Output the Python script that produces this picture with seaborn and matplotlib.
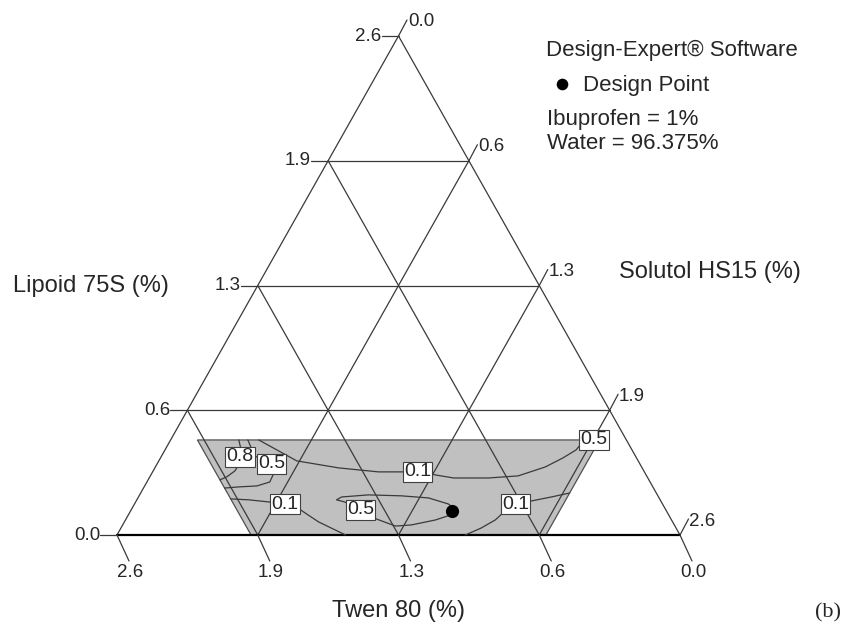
import math

import matplotlib
matplotlib.use("Agg")
import matplotlib.pyplot as plt
import numpy as np
import seaborn as sns

sns.set_style("white")
plt.rcParams["font.family"] = ["Liberation Sans", "DejaVu Sans"]

# Mixture: Lipoid 75S + Tween 80 + Solutol HS15 = 2.625 % (Ibuprofen 1 %, Water 96.375 %)
TOTAL = 2.625
LIPOID_MAX = 0.5
TWEEN_MAX = 2.0
SOLUTOL_MAX = 2.0

# Contour traces as (Lipoid %, Tween %) pairs; Solutol = TOTAL - Lipoid - Tween
c01_upper_lipoid = [0.500, 0.390, 0.353, 0.332, 0.332, 0.300, 0.300, 0.311, 0.358, 0.406, 0.448, 0.500]
c01_upper_tween = [1.714, 1.592, 1.415, 1.240, 1.058, 0.906, 0.743, 0.599, 0.449, 0.342, 0.260, 0.197]

c05_corner_lipoid = [0.490, 0.500]
c05_corner_tween = [0.178, 0.150]

c08_lipoid = [0.500, 0.453, 0.411, 0.369, 0.337, 0.306, 0.290]
c08_tween = [1.807, 1.821, 1.847, 1.873, 1.907, 1.960, 2.000]

c05_left_lipoid = [0.500, 0.416, 0.374, 0.322, 0.279, 0.258, 0.253, 0.247]
c05_left_tween = [1.765, 1.775, 1.717, 1.734, 1.773, 1.844, 1.931, 2.000]

c01_lower_left_lipoid = [0.190, 0.185, 0.174, 0.163, 0.132, 0.069, 0.000]
c01_lower_left_tween = [2.000, 1.918, 1.831, 1.761, 1.703, 1.651, 1.559]

c05_loop_lipoid = [0.132, 0.174, 0.185, 0.200, 0.211, 0.206, 0.195, 0.163,
                   0.142, 0.105, 0.079, 0.053, 0.047, 0.084, 0.132]
c05_loop_tween = [1.424, 1.477, 1.509, 1.478, 1.347, 1.196, 1.075, 0.998,
                  0.985, 1.018, 1.101, 1.226, 1.303, 1.373, 1.424]

c01_lower_right_lipoid = [0.000, 0.037, 0.079, 0.132, 0.163, 0.179, 0.200, 0.221]
c01_lower_right_tween = [1.001, 0.908, 0.822, 0.744, 0.686, 0.604, 0.500, 0.404]

# (level, lipoid, tween, vertex carrying the label)
contours = [
    (0.1, c01_upper_lipoid, c01_upper_tween, 4),
    (0.5, c05_corner_lipoid, c05_corner_tween, 1),
    (0.8, c08_lipoid, c08_tween, 2),
    (0.5, c05_left_lipoid, c05_left_tween, 2),
    (0.1, c01_lower_left_lipoid, c01_lower_left_tween, 3),
    (0.5, c05_loop_lipoid, c05_loop_tween, 0),
    (0.1, c01_lower_right_lipoid, c01_lower_right_tween, 4),
]

design_lipoid = [0.125]
design_tween = [1.0]

tick_values = [TOTAL * k / 4 for k in range(5)]
tick_labels = [f"{math.floor(v * 10 + 1e-9) / 10:.1f}" for v in tick_values]

# ---------------------------------------------------------------- layout
W, H = 858, 628
PX_W, PX_H = 563.0, 499.0      # triangle width / height in pixels
X0, Y0 = 117.0, 535.0          # bottom-left corner in pixels

fig = plt.figure(figsize=(W / 100, H / 100), dpi=100)
ax = fig.add_axes([0, 0, 1, 1])
ax.set_axis_off()
ax.set_xlim(-X0 / PX_W, (W - X0) / PX_W)
ax.set_ylim(-(H - Y0) / PX_H, Y0 / PX_H)


def to_xy(lip, tw):
    lip = np.asarray(lip, dtype=float)
    tw = np.asarray(tw, dtype=float)
    sol = TOTAL - lip - tw
    return (sol + lip / 2) / TOTAL, lip / TOTAL


def pix(px, py):
    return (px - X0) / PX_W, (Y0 - py) / PX_H


def dpix(dx, dy):
    return dx / PX_W, dy / PX_H


LINE = "#3a3a3a"
GRID_LW = 0.9

# design space
space_l = [0.0, 0.0, LIPOID_MAX, LIPOID_MAX]
space_t = [TWEEN_MAX, TOTAL - SOLUTOL_MAX, TOTAL - SOLUTOL_MAX - LIPOID_MAX, TWEEN_MAX]
sx, sy = to_xy(space_l, space_t)
ax.add_patch(plt.Polygon(np.column_stack([sx, sy]), closed=True, fc="#c0c0c0",
                         ec="#505050", lw=0.9, zorder=1))

# grid lines
for v in tick_values[1:-1]:
    # constant Lipoid
    x, y = to_xy([v, v], [TOTAL - v, 0])
    ax.plot(x, y, color=LINE, lw=GRID_LW, zorder=2)
    # constant Solutol
    x, y = to_xy([TOTAL - v, 0], [0, TOTAL - v])
    ax.plot(x, y, color=LINE, lw=GRID_LW, zorder=2)
    # constant Tween
    x, y = to_xy([0, TOTAL - v], [v, v])
    ax.plot(x, y, color=LINE, lw=GRID_LW, zorder=2)

# triangle edges
x, y = to_xy([0, TOTAL], [TOTAL, 0])
ax.plot(x, y, color=LINE, lw=GRID_LW, zorder=2)
x, y = to_xy([TOTAL, 0], [0, 0])
ax.plot(x, y, color=LINE, lw=GRID_LW, zorder=2)
x, y = to_xy([0, 0], [TOTAL, 0])
ax.plot(x, y, color="black", lw=1.6, zorder=2)

# ticks and tick labels
TICK_FS = 13.5
ldx, ldy = dpix(-17, 0)
rdx, rdy = dpix(8.5, 16)
bdx, bdy = dpix(12, -26)
for v, lab in zip(tick_values, tick_labels):
    # Lipoid on the left edge
    x, y = to_xy(v, TOTAL - v)
    ax.plot([x, x + ldx], [y, y + ldy], color=LINE, lw=GRID_LW, zorder=2)
    ax.text(x + ldx, y + ldy, lab, ha="right", va="center", fontsize=TICK_FS)
    # Solutol on the right edge
    x, y = to_xy(TOTAL - v, 0)
    ax.plot([x, x + rdx], [y, y + rdy], color=LINE, lw=GRID_LW, zorder=2)
    ax.text(x + rdx + 1 / PX_W, y + rdy - 2 / PX_H, lab, ha="left", va="center", fontsize=TICK_FS)
    # Tween on the bottom edge
    x, y = to_xy(0, v)
    ax.plot([x, x + bdx], [y, y + bdy], color=LINE, lw=GRID_LW, zorder=2)
    ax.text(x + bdx + 1 / PX_W, y + bdy - 3 / PX_H, lab, ha="center", va="top", fontsize=TICK_FS)

# contours
LABEL_FS = 14
for level, lip, tw, li in contours:
    x, y = to_xy(lip, tw)
    sns.lineplot(x=x, y=y, sort=False, estimator=None, color=LINE, lw=0.9,
                 ax=ax, zorder=3, legend=False)
    ax.text(x[li], y[li], f"{level:.1f}", ha="center", va="center", fontsize=LABEL_FS,
            zorder=4, bbox=dict(boxstyle="square,pad=0.06", fc="white", ec="#404040", lw=0.8))

# design point
dx_, dy_ = to_xy(design_lipoid, design_tween)
sns.scatterplot(x=dx_, y=dy_, s=90, color="black", edgecolor="black", linewidth=0,
                ax=ax, zorder=5, legend=False)

# axis titles
TITLE_FS = 17
ax.text(*pix(13, 292), "Lipoid 75S (%)", ha="left", va="baseline", fontsize=TITLE_FS)
ax.text(*pix(619, 278), "Solutol HS15 (%)", ha="left", va="baseline", fontsize=TITLE_FS)
ax.text(*pix(398, 617), "Twen 80 (%)", ha="center", va="baseline", fontsize=TITLE_FS)

# legend block
LEG_FS = 16
ax.text(*pix(546, 56), "Design-Expert® Software", ha="left", va="baseline", fontsize=LEG_FS)
ax.scatter(*pix(562, 84), s=70, color="black", linewidths=0, zorder=5)
ax.text(*pix(583, 91), "Design Point", ha="left", va="baseline", fontsize=LEG_FS)
ax.text(*pix(547, 125), "Ibuprofen = 1%", ha="left", va="baseline", fontsize=LEG_FS)
ax.text(*pix(547, 149), "Water = 96.375%", ha="left", va="baseline", fontsize=LEG_FS)

ax.text(*pix(815, 617), "(b)", ha="left", va="baseline", fontsize=16,
        family=["Liberation Serif", "DejaVu Serif"])

fig.savefig("out.png", dpi=100)
